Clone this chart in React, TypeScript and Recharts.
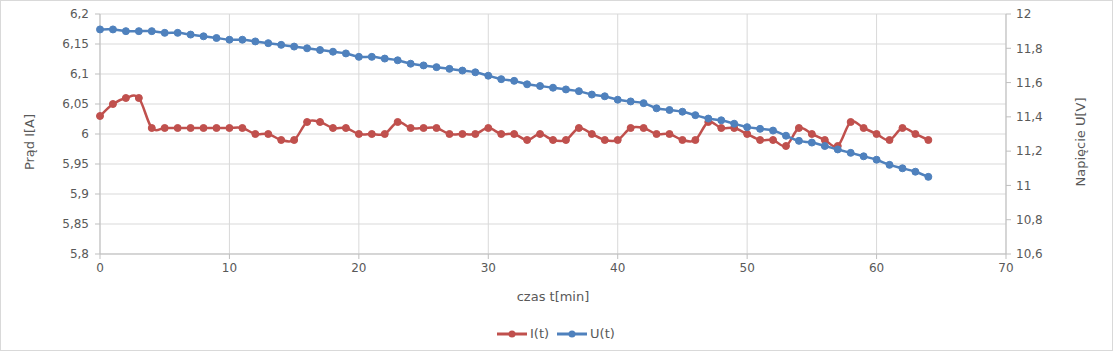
import { LineChart, Line, XAxis, YAxis, CartesianGrid } from "recharts";

// Minutes since start of measurement.
const time = [
  0, 1, 2, 3, 4, 5, 6, 7, 8, 9, 10, 11, 12, 13, 14, 15, 16, 17, 18, 19, 20,
  21, 22, 23, 24, 25, 26, 27, 28, 29, 30, 31, 32, 33, 34, 35, 36, 37, 38, 39,
  40, 41, 42, 43, 44, 45, 46, 47, 48, 49, 50, 51, 52, 53, 54, 55, 56, 57, 58,
  59, 60, 61, 62, 63, 64,
];

// I(t) [A], left axis
const current = [
  6.03, 6.05, 6.06, 6.06, 6.01, 6.01, 6.01, 6.01, 6.01, 6.01, 6.01, 6.01,
  6.0, 6.0, 5.99, 5.99, 6.02, 6.02, 6.01, 6.01, 6.0, 6.0, 6.0, 6.02, 6.01,
  6.01, 6.01, 6.0, 6.0, 6.0, 6.01, 6.0, 6.0, 5.99, 6.0, 5.99, 5.99, 6.01, 6.0,
  5.99, 5.99, 6.01, 6.01, 6.0, 6.0, 5.99, 5.99, 6.02, 6.01, 6.01, 6.0, 5.99,
  5.99, 5.98, 6.01, 6.0, 5.99, 5.98, 6.02, 6.01, 6.0, 5.99, 6.01, 6.0, 5.99,
];

// U(t) [V], right axis
const voltage = [
  11.91, 11.91, 11.9, 11.9, 11.9, 11.89, 11.89, 11.88, 11.87, 11.86, 11.85,
  11.85, 11.84, 11.83, 11.82, 11.81, 11.8, 11.79, 11.78, 11.77, 11.75, 11.75,
  11.74, 11.73, 11.71, 11.7, 11.69, 11.68, 11.67, 11.66, 11.64, 11.62, 11.61,
  11.59, 11.58, 11.57, 11.56, 11.55, 11.53, 11.52, 11.5, 11.49, 11.48, 11.45,
  11.44, 11.43, 11.41, 11.39, 11.38, 11.36, 11.34, 11.33, 11.32, 11.29, 11.26,
  11.25, 11.23, 11.21, 11.19, 11.17, 11.15, 11.12, 11.1, 11.08, 11.05,
];

const xTicks = [0, 10, 20, 30, 40, 50, 60, 70];
const iTicks = [5.8, 5.85, 5.9, 5.95, 6.0, 6.05, 6.1, 6.15, 6.2];
const uTicks = [10.6, 10.8, 11.0, 11.2, 11.4, 11.6, 11.8, 12.0];

const RED = "#c0504d";
const BLUE = "#4f81bd";
const TEXT = "#595959";
const GRID = "#d9d9d9";
const AXIS = "#bfbfbf";
const FONT = "'DejaVu Sans', sans-serif";

const data = time.map((t, i) => ({ t, I: current[i], U: voltage[i] }));

// Polish decimal comma, no trailing zeros
const fmt = (v: number) => String(Number(v.toFixed(2))).replace(".", ",");

// Excel-style smoothed line: Catmull-Rom through every point.
function smooth(context: any) {
  let pts: Array<[number, number]> = [];
  return {
    areaStart() {},
    areaEnd() {},
    lineStart() {
      pts = [];
    },
    point(x: number, y: number) {
      pts.push([+x, +y]);
    },
    lineEnd() {
      if (pts.length === 0) return;
      context.moveTo(pts[0][0], pts[0][1]);
      for (let i = 0; i < pts.length - 1; i++) {
        const p0 = pts[i - 1] ?? pts[i];
        const p1 = pts[i];
        const p2 = pts[i + 1];
        const p3 = pts[i + 2] ?? p2;
        context.bezierCurveTo(
          p1[0] + (p2[0] - p0[0]) / 6,
          p1[1] + (p2[1] - p0[1]) / 6,
          p2[0] - (p3[0] - p1[0]) / 6,
          p2[1] - (p3[1] - p1[1]) / 6,
          p2[0],
          p2[1],
        );
      }
    },
  };
}

const tickStyle = { fill: TEXT, fontSize: 12, fontFamily: FONT };

function LegendIcon({ color }: { color: string }) {
  return (
    <svg width={30} height={10} style={{ display: "block" }}>
      <line x1={0} y1={5} x2={30} y2={5} stroke={color} strokeWidth={3} />
      <circle cx={15} cy={5} r={3.5} fill={color} />
    </svg>
  );
}

export default function App() {
  return (
    <div
      style={{
        position: "absolute",
        left: 0,
        top: 0,
        width: 1111,
        height: 349,
        border: `1px solid ${GRID}`,
        background: "#fff",
        fontFamily: FONT,
      }}
    >
      <LineChart
        width={1111}
        height={349}
        data={data}
        margin={{ top: 13, right: 0, left: -1, bottom: 0 }}
      >
        <CartesianGrid stroke={GRID} yAxisId="I" />
        <XAxis
          dataKey="t"
          type="number"
          domain={[0, 70]}
          ticks={xTicks}
          height={96}
          stroke={AXIS}
          tickSize={5}
          tickMargin={4}
          tick={tickStyle}
          label={(p: any) => {
            const vb = p.viewBox;
            return (
              <text
                x={vb.x + vb.width / 2}
                y={vb.y + 42}
                textAnchor="middle"
                dominantBaseline="central"
                fill={TEXT}
                fontSize={13}
                fontFamily={FONT}
              >
                czas t[min]
              </text>
            );
          }}
        />
        <YAxis
          yAxisId="I"
          domain={[5.8, 6.2]}
          ticks={iTicks}
          width={100}
          stroke={AXIS}
          tickSize={5}
          tickMargin={6}
          tick={tickStyle}
          tickFormatter={fmt}
          label={(p: any) => {
            const vb = p.viewBox;
            const cx = vb.x + 29;
            const cy = vb.y + vb.height / 2 + 8;
            return (
              <text
                x={cx}
                y={cy}
                transform={`rotate(-90 ${cx} ${cy})`}
                textAnchor="middle"
                dominantBaseline="central"
                fill={TEXT}
                fontSize={13}
                fontFamily={FONT}
              >
                Prąd I[A]
              </text>
            );
          }}
        />
        <YAxis
          yAxisId="U"
          orientation="right"
          domain={[10.6, 12]}
          ticks={uTicks}
          width={106}
          stroke={AXIS}
          tickSize={5}
          tickMargin={5}
          tick={tickStyle}
          tickFormatter={fmt}
          label={(p: any) => {
            const vb = p.viewBox;
            const cx = vb.x + 74;
            const cy = vb.y + vb.height / 2 + 8;
            return (
              <text
                x={cx}
                y={cy}
                transform={`rotate(-90 ${cx} ${cy})`}
                textAnchor="middle"
                dominantBaseline="central"
                fill={TEXT}
                fontSize={13}
                fontFamily={FONT}
              >
                Napięcie U[V]
              </text>
            );
          }}
        />
        <Line
          yAxisId="I"
          dataKey="I"
          name="I(t)"
          type={smooth as any}
          stroke={RED}
          strokeWidth={2.5}
          dot={{ r: 3.5, fill: RED, stroke: RED, strokeWidth: 1 }}
          isAnimationActive={false}
        />
        <Line
          yAxisId="U"
          dataKey="U"
          name="U(t)"
          type={smooth as any}
          stroke={BLUE}
          strokeWidth={2.5}
          dot={{ r: 3.5, fill: BLUE, stroke: BLUE, strokeWidth: 1 }}
          isAnimationActive={false}
        />
      </LineChart>
      <div
        style={{
          position: "absolute",
          left: 496,
          top: 325,
          display: "flex",
          alignItems: "center",
          fontSize: 13,
          color: TEXT,
          lineHeight: "16px",
        }}
      >
        <LegendIcon color={RED} />
        <span style={{ marginLeft: 3, marginRight: 8 }}>I(t)</span>
        <LegendIcon color={BLUE} />
        <span style={{ marginLeft: 3 }}>U(t)</span>
      </div>
    </div>
  );
}
